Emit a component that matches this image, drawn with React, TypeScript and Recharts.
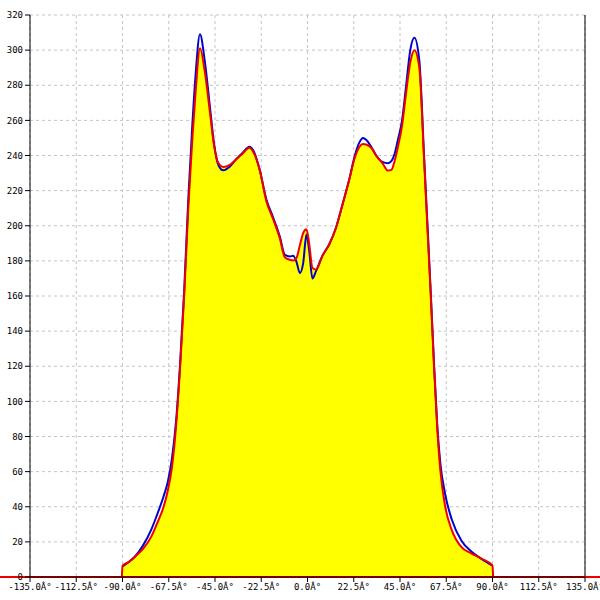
import {
  ComposedChart,
  Area,
  Line,
  XAxis,
  YAxis,
  CartesianGrid,
  ReferenceLine,
} from "recharts"

const ANGLES = [
  -90.3, -90, -87, -84, -80, -76, -73, -70, -68, -66, -64, -62, -60, -58, -56, -54.5, -52.3, -50, -47.5, -45.5,
  -43.5, -41, -38, -35, -32, -28.2, -25.8, -23.3, -20, -16.8, -13.5, -11, -8.6, -7, -5.4, -3.7, -2.1, -0.5, 0.8,
  2.4, 4.1, 7.3, 10.6, 13.9, 17.1, 20.4, 22.8, 25.3, 27, 28.5, 31, 33.4, 36.7, 39.1, 40.8, 42.4, 44, 46, 48, 50,
  52, 54.4, 56.7, 58.3, 59.9, 61.5, 63.1, 64.6, 67, 70.2, 74.9, 79.7, 84.5, 90, 90.3,
]

const BLUE = [
  null, 6, 8.5, 11.5, 18, 27, 36, 46, 54, 67, 88, 121, 163, 215, 258, 285, 309, 294, 268, 247,
  235, 231.6, 233.5, 237.5, 241, 245, 241.5, 232, 215, 205, 194, 183.4, 182.5, 182.9, 179.6, 173, 178.7, 195, 186,
  170, 174, 183, 189.5, 199, 212.4, 226.7, 239, 247.6, 250, 249, 245, 240, 236.2, 235.6, 236.8, 241, 249, 260, 280, 300,
  307, 294, 240, 202, 163.5, 123, 87, 65, 47, 32.7, 20.6, 14.5, 10.5, 6.5, null,
]

const RED = [
  0, 6.5, 8.5, 11.5, 16, 23, 31, 40, 49, 62, 85, 119, 160, 210, 250, 275, 301, 288, 265, 246,
  236, 233.5, 234.5, 237.5, 240.6, 244.4, 240.6, 232, 214, 204, 193, 182, 180.6, 180.2, 181.5, 189, 195.8, 198, 190,
  176, 175, 183, 189.5, 199, 212.4, 226.7, 238, 245, 246.6, 246.3, 244.4, 240, 235.2, 231.4, 231.8, 237, 245, 257, 276, 293,
  300, 290, 238, 200, 162, 121, 85, 61, 40, 26.7, 17, 13.5, 10.5, 6.5, 0,
]

const X_TICKS = [-135, -112.5, -90, -67.5, -45, -22.5, 0, 22.5, 45, 67.5, 90, 112.5, 135]
const Y_TICKS = [0, 20, 40, 60, 80, 100, 120, 140, 160, 180, 200, 220, 240, 260, 280, 300, 320]

const data = ANGLES.map((angle, i) => ({ angle, blue: BLUE[i], red: RED[i] }))

const tickStyle = { fontFamily: "DejaVu Sans Mono", fontSize: 9, fill: "#000" }

export default function App() {
  return (
    <div style={{ position: "absolute", left: 0, top: 0, background: "#fff" }}>
      <ComposedChart
        width={600}
        height={600}
        data={data}
        margin={{ top: 15, right: 15, left: 0, bottom: 0 }}
      >
        <XAxis
          type="number"
          dataKey="angle"
          domain={[-135, 135]}
          ticks={X_TICKS}
          interval={0}
          height={23}
          tickSize={5}
          stroke="#000"
          tick={tickStyle}
          tickFormatter={(v: number) => v.toFixed(1) + "Â°"}
        />
        <YAxis
          domain={[0, 320]}
          ticks={Y_TICKS}
          interval={0}
          width={30}
          tickSize={5}
          stroke="#000"
          tick={tickStyle}
        />
        <Area
          type="monotone"
          dataKey="red"
          fill="#ffff00"
          fillOpacity={1}
          stroke="none"
          isAnimationActive={false}
        />
        <CartesianGrid stroke="#c4c4c4" strokeDasharray="3 3" />
        <ReferenceLine x={135} stroke="#000" />
        <Line
          type="monotone"
          dataKey="blue"
          stroke="#0000cc"
          strokeWidth={2}
          dot={false}
          isAnimationActive={false}
        />
        <Line
          type="monotone"
          dataKey="red"
          stroke="#ee0000"
          strokeWidth={2}
          dot={false}
          isAnimationActive={false}
        />
        <ReferenceLine
          segment={[{ x: -150, y: 0 }, { x: 150, y: 0 }]}
          stroke="#ee0000"
          strokeWidth={2}
          ifOverflow="visible"
        />
      </ComposedChart>
    </div>
  )
}
